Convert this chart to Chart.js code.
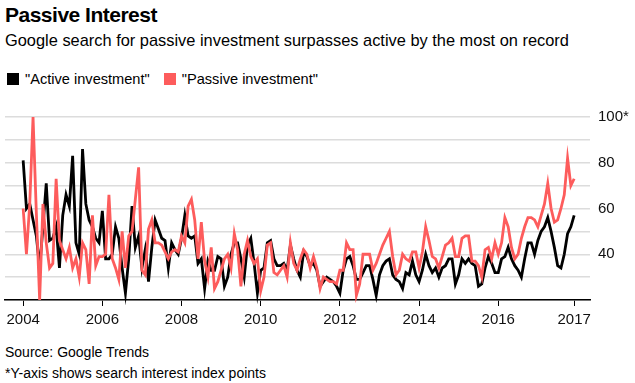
<!DOCTYPE html>
<html>
<head>
<meta charset="utf-8">
<script src="https://cdn.jsdelivr.net/npm/chart.js@4/dist/chart.umd.min.js"></script>
<style>
  body { margin: 0; background: #fff; font-family: "Liberation Sans", Arial, sans-serif; color: #000; }
  #wrap { position: relative; width: 635px; height: 383px; overflow: hidden; }
  .txt { position: absolute; left: 5px; line-height: 1; white-space: nowrap; }
  #title { top: 4px; font-size: 21px; font-weight: bold; letter-spacing: -0.5px; }
  #subtitle { top: 32px; font-size: 16.4px; }
  #legend { top: 72px; font-size: 14.6px; left: 7px; }
  #legend span.sw { display: inline-block; width: 12px; height: 12px; vertical-align: -1px; margin-right: 6px; }
  #legend span.item { margin-right: 10px; }
  #source { top: 345px; font-size: 14px; }
  #note { top: 366px; font-size: 14px; }
  #chartBox { position: absolute; left: 0; top: 100px; width: 635px; height: 240px; }
</style>
</head>
<body>
<div id="wrap">
  <div class="txt" id="title">Passive Interest</div>
  <div class="txt" id="subtitle">Google search for passive investment surpasses active by the most on record</div>
  <div class="txt" id="legend">
    <span class="item"><span class="sw" style="background:#000"></span>"Active investment"</span>
    <span class="item"><span class="sw" style="background:#fd5c5c"></span>"Passive investment"</span>
  </div>
  <div id="chartBox"><canvas id="chart" width="635" height="240"></canvas></div>
  <div class="txt" id="source">Source: Google Trends</div>
  <div class="txt" id="note">*Y-axis shows search interest index points</div>
</div>
<script>
"use strict";

// monthly values, Jan 2004 .. Dec 2017
const active = [
  81, 60, 62, 55, 48, 34, 52, 71, 46, 47, 52, 34,
  57, 66, 61, 83, 45, 40, 86, 62, 55, 52, 47, 45,
  59, 38, 38, 40, 52, 47, 34, 23, 38, 61, 43, 48,
  34, 42, 28, 43, 55, 51, 47, 46, 34, 45, 42, 40,
  47, 57, 48, 47, 48, 36, 38, 25, 37, 33, 33, 39,
  38, 26, 30, 40, 45, 45, 38, 30, 44, 47, 36, 23,
  33, 34, 45, 46, 38, 35, 35, 36, 33, 44, 38, 33,
  30, 41, 39, 35, 36, 33, 26, 28, 30, 29, 28, 26,
  23, 33, 38, 39, 35, 29, 29, 32, 35, 35, 29, 22,
  31, 35, 37, 38, 31, 29, 28, 25, 32, 31, 37, 31,
  28, 33, 40, 35, 32, 34, 30, 34, 35, 38, 38, 27,
  31, 38, 36, 38, 36, 35, 26, 27, 34, 39, 36, 32,
  32, 38, 39, 43, 38, 35, 33, 30, 38, 45, 45, 40,
  46, 50, 52, 56, 50, 43, 35, 34, 40, 49, 52, 57
];
const passive = [
  60, 40, 62, 100, 58, 20, 62, 45, 34, 36, 73, 46,
  42, 38, 43, 34, 38, 30, 45, 42, 27, 57, 35, 39,
  39, 40, 66, 38, 34, 29, 50, 34, 48, 50, 64, 78,
  33, 31, 51, 55, 45, 45, 44, 41, 38, 41, 42, 41,
  48, 45, 61, 64, 55, 38, 54, 37, 30, 43, 25, 28,
  33, 38, 40, 34, 49, 42, 26, 40, 46, 39, 36, 38,
  24, 30, 44, 45, 32, 31, 33, 35, 30, 45, 36, 33,
  38, 42, 40, 34, 39, 34, 25, 30, 29, 28, 28, 27,
  33, 33, 45, 42, 42, 22, 27, 40, 40, 40, 33, 36,
  40, 44, 47, 50, 39, 31, 33, 40, 38, 37, 41, 41,
  34, 41, 52, 46, 39, 38, 34, 39, 44, 45, 47, 39,
  39, 47, 48, 48, 37, 37, 35, 30, 42, 43, 38, 45,
  40, 45, 56, 52, 43, 38, 40, 47, 52, 56, 56, 55,
  52, 57, 62, 71, 60, 54, 55, 60, 66, 82, 70, 73
];
const xTickMonths = [0, 24, 48, 72, 96, 120, 144, 167];
const xTickLabels = ["2004", "2006", "2008", "2010", "2012", "2014", "2016", "2017"];
const yLabelValues = [40, 60, 80, 100];

const toPoints = (arr) => arr.map((v, i) => ({x: i, y: v}));
const tickFont = {family: "'Liberation Sans', Arial, sans-serif", size: 15};

new Chart(document.getElementById("chart"), {
  type: "line",
  data: {
    datasets: [
      {
        label: "Active investment",
        data: toPoints(active),
        borderColor: "#000000",
        borderWidth: 2.8,
        pointRadius: 0,
        tension: 0,
        order: 2,
        clip: false
      },
      {
        label: "Passive investment",
        data: toPoints(passive),
        borderColor: "#fd5c5c",
        borderWidth: 2.8,
        pointRadius: 0,
        tension: 0,
        order: 1,
        clip: false
      }
    ]
  },
  options: {
    responsive: false,
    animation: false,
    layout: {padding: {top: 11, left: 5, right: 0, bottom: 0}},
    plugins: {legend: {display: false}, tooltip: {enabled: false}},
    scales: {
      x: {
        type: "linear",
        min: -5.5,
        max: 171.8,
        afterBuildTicks: (scale) => {
          scale.ticks = xTickMonths.map((v) => ({value: v}));
        },
        afterFit: (scale) => { scale.height = 40; },
        grid: {drawOnChartArea: false, drawTicks: true, tickLength: 6, color: "#000", lineWidth: 1},
        border: {color: "#000", width: 1.5},
        ticks: {
          autoSkip: false,
          maxRotation: 0,
          padding: 5,
          color: "#111",
          font: tickFont,
          callback: (val, idx) => xTickLabels[idx]
        }
      },
      y: {
        position: "right",
        min: 20,
        max: 100,
        afterFit: (scale) => { scale.width = 45; },
        grid: {drawTicks: false, color: "#dcdcdc", lineWidth: 1.5},
        border: {display: false},
        ticks: {
          stepSize: 10,
          padding: 8,
          color: "#111",
          font: tickFont,
          callback: (v) => {
            if (!yLabelValues.includes(v)) return "";
            return v === 100 ? "100*" : String(v);
          }
        }
      }
    }
  }
});
</script>
</body>
</html>
